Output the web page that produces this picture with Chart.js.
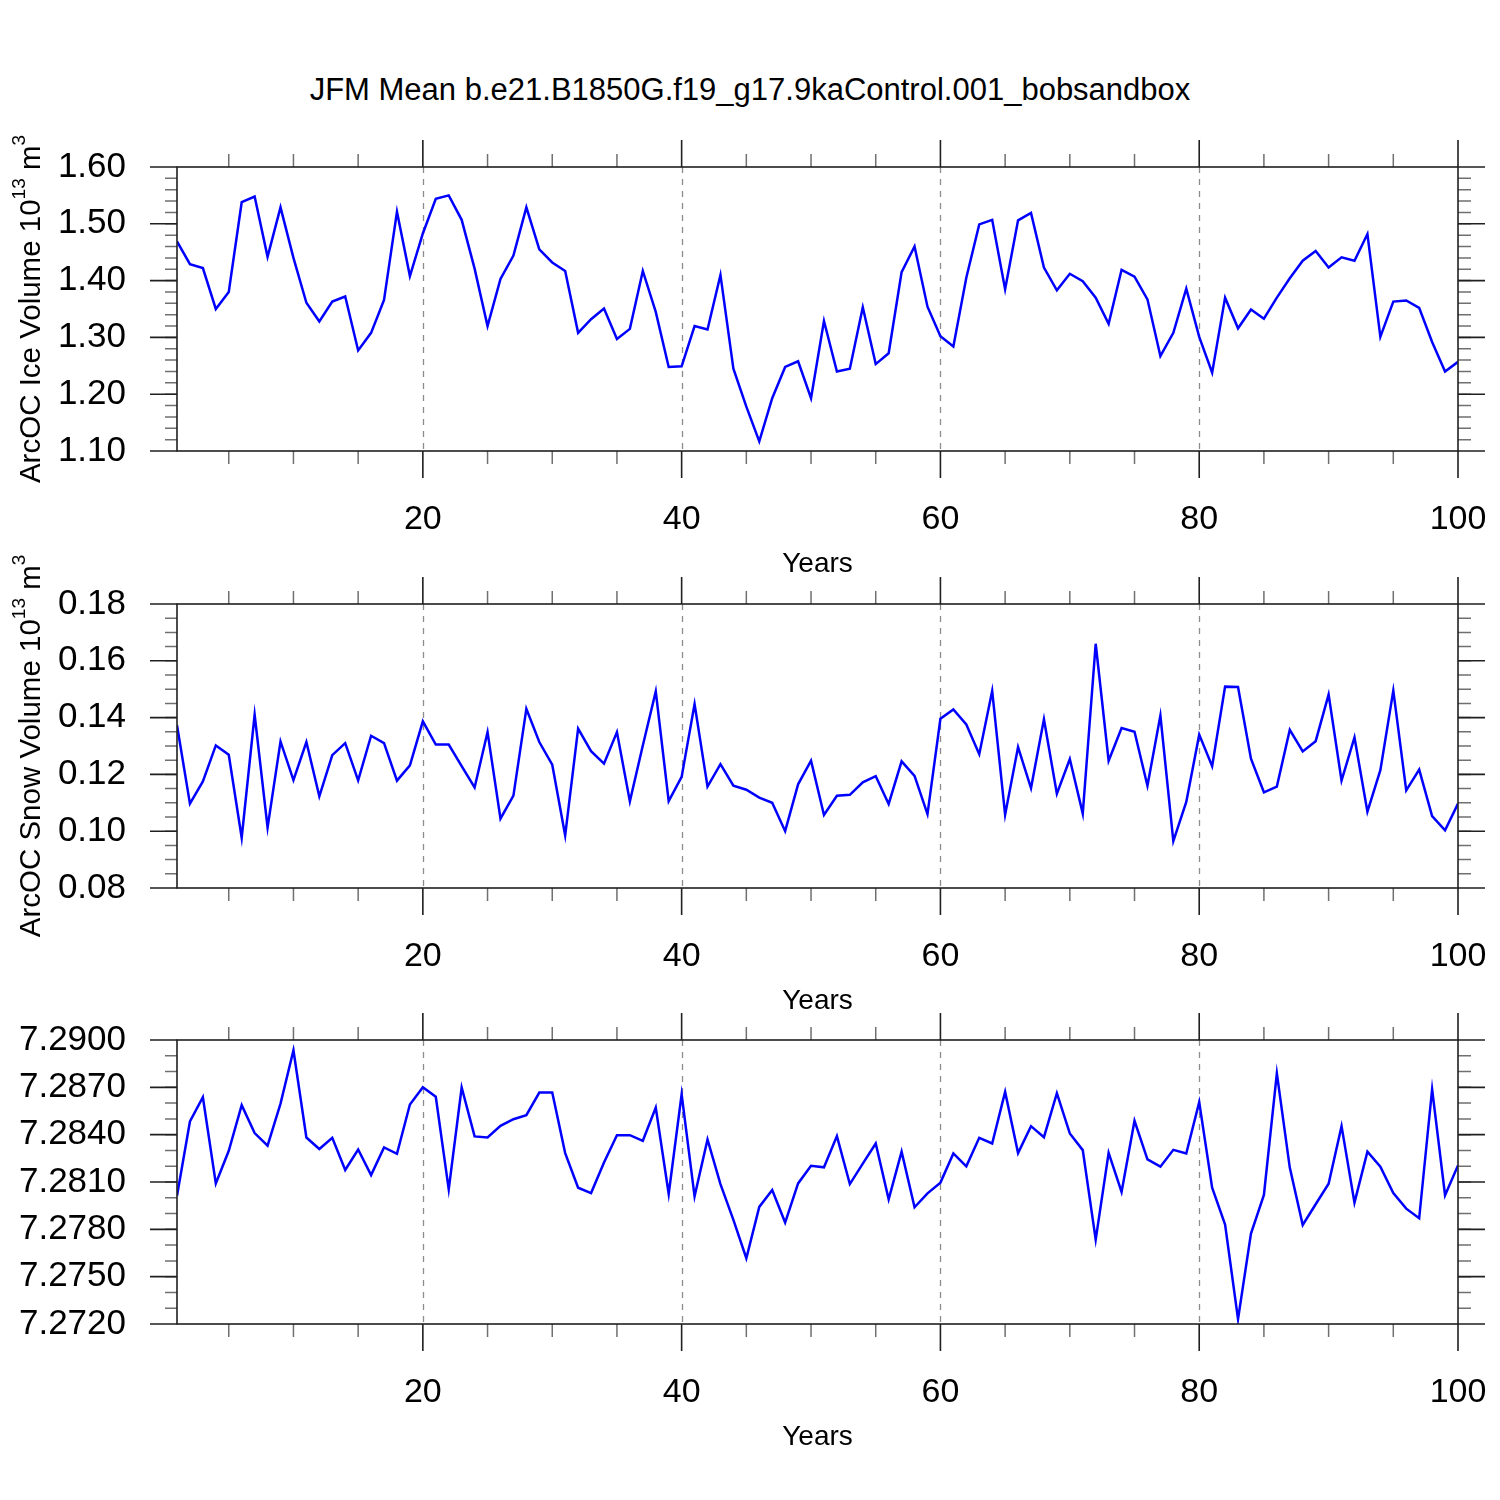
<!DOCTYPE html>
<html>
<head>
<meta charset="utf-8">
<title>JFM Mean</title>
<script src="https://cdn.jsdelivr.net/npm/chart.js@4.4.1/dist/chart.umd.min.js"></script>
<style>
  body { margin: 0; background: #fff; }
  #wrap { position: relative; width: 1500px; height: 1500px; overflow: hidden; }
  #wrap canvas { position: absolute; left: 0; }
  #title { position: absolute; left: 0; top: 72px; width: 1500px; line-height: 36px;
           text-align: center; font: 31px "Liberation Sans", Arial, sans-serif; color: #000; }
</style>
</head>
<body>
<div id="wrap">
  <div id="title">JFM Mean b.e21.B1850G.f19_g17.9kaControl.001_bobsandbox</div>
  <canvas id="c1" width="1500" height="480" style="top:107px"></canvas>
  <canvas id="c2" width="1500" height="480" style="top:544px"></canvas>
  <canvas id="c3" width="1500" height="480" style="top:980px"></canvas>
</div>
<script>
var FONT = '"Liberation Sans", Arial, sans-serif';

// years 1..100
var years = [];
for (var i = 1; i <= 100; i++) years.push(i);

var xTicks = [20, 40, 60, 80, 100];
var gridYears = [20, 40, 60, 80];

var iceVol = [
  1.469, 1.429, 1.422, 1.350, 1.380, 1.538, 1.548, 1.442, 1.529, 1.440,
  1.361, 1.328, 1.363, 1.372, 1.277, 1.308, 1.366, 1.521, 1.408, 1.483,
  1.544, 1.550, 1.507, 1.421, 1.320, 1.403, 1.444, 1.529, 1.455, 1.432,
  1.417, 1.308, 1.332, 1.351, 1.297, 1.315, 1.417, 1.345, 1.248, 1.249,
  1.320, 1.314, 1.410, 1.245, 1.178, 1.117, 1.193, 1.248, 1.258, 1.193,
  1.329, 1.240, 1.245, 1.353, 1.253, 1.272, 1.415, 1.460, 1.354, 1.302,
  1.284, 1.405, 1.499, 1.507, 1.385, 1.506, 1.519, 1.423, 1.383, 1.412,
  1.399, 1.370, 1.324, 1.419, 1.407, 1.367, 1.267, 1.308, 1.386, 1.301,
  1.238, 1.370, 1.316, 1.349, 1.333, 1.370, 1.404, 1.435, 1.452, 1.423,
  1.441, 1.435, 1.482, 1.301, 1.363, 1.365, 1.352, 1.292, 1.240, 1.257
];

var snowVol = [
  0.1373, 0.1097, 0.1175, 0.1302, 0.1269, 0.0977, 0.1410, 0.1013, 0.1316, 0.1180,
  0.1314, 0.1123, 0.1268, 0.1310, 0.1179, 0.1336, 0.1310, 0.1178, 0.1232, 0.1387,
  0.1305, 0.1305, 0.1229, 0.1154, 0.1349, 0.1044, 0.1125, 0.1431, 0.1314, 0.1234,
  0.0985, 0.1361, 0.1282, 0.1238, 0.1349, 0.1105, 0.1302, 0.1492, 0.1106, 0.1191,
  0.1448, 0.1157, 0.1236, 0.1160, 0.1146, 0.1118, 0.1100, 0.1000, 0.1165, 0.1248,
  0.1057, 0.1125, 0.1128, 0.1172, 0.1194, 0.1096, 0.1246, 0.1195, 0.1060, 0.1396,
  0.1429, 0.1376, 0.1271, 0.1494, 0.1058, 0.1296, 0.1152, 0.1394, 0.1132, 0.1254,
  0.1062, 0.1660, 0.1248, 0.1363, 0.1350, 0.1160, 0.1407, 0.0965, 0.1103, 0.1340,
  0.1229, 0.1509, 0.1508, 0.1255, 0.1137, 0.1157, 0.1357, 0.1281, 0.1317, 0.1481,
  0.1178, 0.1330, 0.1069, 0.1215, 0.1495, 0.1144, 0.1217, 0.1053, 0.1003, 0.1097
];

var thirdVar = [
  7.28013, 7.28484, 7.28637, 7.28091, 7.28298, 7.28587, 7.28410, 7.28330, 7.28597, 7.28935,
  7.28382, 7.28309, 7.28380, 7.28176, 7.28306, 7.28144, 7.28319, 7.28279, 7.28591, 7.28701,
  7.28640, 7.28053, 7.28699, 7.28389, 7.28382, 7.28456, 7.28498, 7.28524, 7.28667, 7.28667,
  7.28283, 7.28064, 7.28030, 7.28224, 7.28397, 7.28397, 7.28361, 7.28572, 7.28024, 7.28656,
  7.28009, 7.28370, 7.28087, 7.27860, 7.27617, 7.27942, 7.28049, 7.27843, 7.28091, 7.28203,
  7.28193, 7.28391, 7.28087, 7.28216, 7.28344, 7.27990, 7.28292, 7.27940, 7.28028, 7.28096,
  7.28281, 7.28199, 7.28380, 7.28344, 7.28671, 7.28283, 7.28454, 7.28384, 7.28663, 7.28408,
  7.28302, 7.27735, 7.28285, 7.28037, 7.28488, 7.28243, 7.28197, 7.28304, 7.28281, 7.28606,
  7.28064, 7.27830, 7.27231, 7.27773, 7.28018, 7.28789, 7.28191, 7.27828, 7.27959, 7.28089,
  7.28454, 7.27969, 7.28292, 7.28197, 7.28030, 7.27931, 7.27870, 7.28688, 7.28016, 7.28205
];

var iceTicks = [1.10, 1.20, 1.30, 1.40, 1.50, 1.60];
var snowTicks = [0.08, 0.10, 0.12, 0.14, 0.16, 0.18];
var thirdTicks = [7.2720, 7.2750, 7.2780, 7.2810, 7.2840, 7.2870, 7.2900];

// frame, outward ticks, dashed year lines, y title (NCL look)
var nclFrame = {
  id: 'nclFrame',
  beforeDatasetsDraw: function(chart) {
    var a = chart.chartArea, xs = chart.scales.x, ctx = chart.ctx;
    ctx.save();
    ctx.strokeStyle = '#8c8c8c';
    ctx.lineWidth = 1.3;
    ctx.setLineDash([6, 6]);
    gridYears.forEach(function(v) {
      var px = Math.round(xs.getPixelForValue(v)) + 0.5;
      ctx.beginPath(); ctx.moveTo(px, a.top); ctx.lineTo(px, a.bottom); ctx.stroke();
    });
    ctx.restore();
  },
  afterDraw: function(chart, args, opts) {
    var a = chart.chartArea, xs = chart.scales.x, ys = chart.scales.y, ctx = chart.ctx;
    var v, k, px, py;
    ctx.save();
    ctx.lineCap = 'butt';

    // minor ticks
    ctx.strokeStyle = '#707070';
    ctx.lineWidth = 1.5;
    ctx.beginPath();
    for (v = 5; v < 100; v += 5) {
      if (v % 20 === 0) continue;
      px = xs.getPixelForValue(v);
      ctx.moveTo(px, a.top - 13); ctx.lineTo(px, a.top);
      ctx.moveTo(px, a.bottom); ctx.lineTo(px, a.bottom + 13);
    }
    var n = Math.round((ys.max - ys.min) / opts.minor);
    for (k = 1; k < n; k++) {
      py = ys.getPixelForValue(ys.min + k * opts.minor);
      ctx.moveTo(a.left - 12, py); ctx.lineTo(a.left, py);
      ctx.moveTo(a.right, py); ctx.lineTo(a.right + 13, py);
    }
    ctx.stroke();

    // major ticks
    ctx.strokeStyle = '#202020';
    ctx.lineWidth = 1.6;
    ctx.beginPath();
    xTicks.forEach(function(t) {
      px = xs.getPixelForValue(t);
      ctx.moveTo(px, a.top - 27); ctx.lineTo(px, a.top);
      ctx.moveTo(px, a.bottom); ctx.lineTo(px, a.bottom + 27);
    });
    ys.ticks.forEach(function(t) {
      py = ys.getPixelForValue(t.value);
      ctx.moveTo(a.left - 27, py); ctx.lineTo(a.left, py);
      ctx.moveTo(a.right, py); ctx.lineTo(a.right + 27, py);
    });
    ctx.stroke();

    // frame
    ctx.strokeRect(a.left, a.top, a.right - a.left, a.bottom - a.top);

    // rotated y title with superscripts
    if (opts.title) {
      var parts = opts.title;
      var big = '29.5px ' + FONT, small = '19px ' + FONT;
      var total = 0;
      parts.forEach(function(p) { ctx.font = p.sup ? small : big; total += ctx.measureText(p.t).width; });
      ctx.translate(opts.titleX, (a.top + a.bottom) / 2);
      ctx.rotate(-Math.PI / 2);
      ctx.fillStyle = '#000';
      ctx.textBaseline = 'middle';
      ctx.textAlign = 'left';
      var cx = -total / 2;
      parts.forEach(function(p) {
        ctx.font = p.sup ? small : big;
        ctx.fillText(p.t, cx, p.sup ? -12 : 0);
        cx += ctx.measureText(p.t).width;
      });
    }
    ctx.restore();
  }
};

function makeChart(id, values, ticks, decimals, minor, title) {
  var pts = years.map(function(yr, i) { return { x: yr, y: values[i] }; });
  return new Chart(document.getElementById(id), {
    type: 'line',
    data: {
      datasets: [{
        data: pts,
        borderColor: '#0000ff',
        borderWidth: 2.5,
        pointRadius: 0,
        tension: 0,
        fill: false
      }]
    },
    options: {
      responsive: false,
      animation: false,
      devicePixelRatio: 1,
      layout: { padding: { top: 60, right: 42, left: 0, bottom: 0 } },
      plugins: {
        legend: { display: false },
        tooltip: { enabled: false },
        nclFrame: { minor: minor, title: title, titleX: 32 }
      },
      scales: {
        x: {
          type: 'linear',
          min: 1, max: 100,
          afterBuildTicks: function(s) { s.ticks = xTicks.map(function(v) { return { value: v }; }); },
          afterFit: function(s) { s.height = 136; },
          // ticks are drawn by the plugin; tickLength only spaces the labels
          grid: { display: false, drawTicks: true, tickLength: 48 },
          border: { display: false },
          ticks: { color: '#000', font: { family: FONT, size: 34 }, padding: 0, maxRotation: 0, autoSkip: false },
          title: { display: true, text: 'Years', color: '#000', font: { family: FONT, size: 28 }, padding: { top: 0, bottom: 6 } }
        },
        y: {
          min: ticks[0], max: ticks[ticks.length - 1],
          afterBuildTicks: function(s) { s.ticks = ticks.map(function(v) { return { value: v }; }); },
          afterFit: function(s) { s.width = 177; },
          grid: { display: false, drawTicks: true, tickLength: 51 },
          border: { display: false },
          ticks: {
            color: '#000', font: { family: FONT, size: 35 }, padding: 0, autoSkip: false,
            callback: function(v) { return Number(v).toFixed(decimals); }
          }
        }
      }
    },
    plugins: [nclFrame]
  });
}

makeChart('c1', iceVol, iceTicks, 2, 0.02,
  [{ t: 'ArcOC Ice Volume 10' }, { t: '13', sup: true }, { t: ' m' }, { t: '3', sup: true }]);
makeChart('c2', snowVol, snowTicks, 2, 0.005,
  [{ t: 'ArcOC Snow Volume 10' }, { t: '13', sup: true }, { t: ' m' }, { t: '3', sup: true }]);
makeChart('c3', thirdVar, thirdTicks, 4, 0.001, null);
</script>
</body>
</html>
